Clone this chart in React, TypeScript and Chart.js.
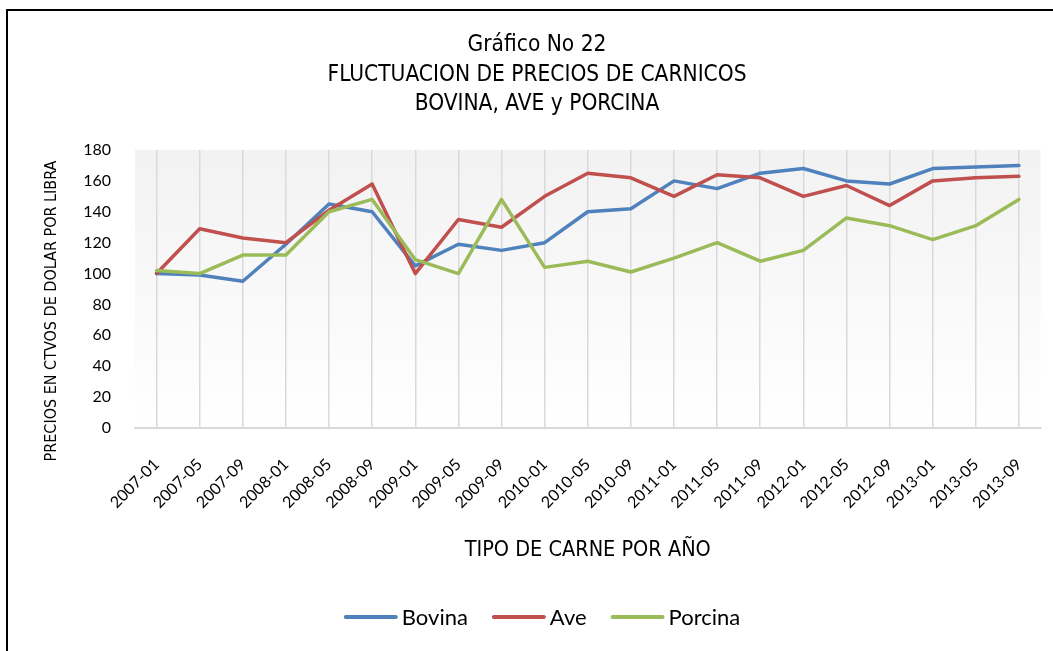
import React, { useEffect, useRef } from 'react';
import { Chart, registerables } from 'chart.js';

Chart.register(...registerables);

const categories = [
  '2007-01', '2007-05', '2007-09', '2008-01', '2008-05', '2008-09', '2009-01',
  '2009-05', '2009-09', '2010-01', '2010-05', '2010-09', '2011-01', '2011-05',
  '2011-09', '2012-01', '2012-05', '2012-09', '2013-01', '2013-05', '2013-09',
];
const bovina = [100, 99, 95, 119, 145, 140, 105, 119, 115, 120, 140, 142, 160, 155, 165, 168, 160, 158, 168, 169, 170];
const ave = [100, 129, 123, 120, 141, 158, 100, 135, 130, 150, 165, 162, 150, 164, 162, 150, 157, 144, 160, 162, 163];
const porcina = [102, 100, 112, 112, 140, 148, 109, 100, 148, 104, 108, 101, 110, 120, 108, 115, 136, 131, 122, 131, 148];

const seriesNames = ['Bovina', 'Ave', 'Porcina'];
const seriesColors = ['#4F81BD', '#C0504D', '#9BBB59'];
const yMin = 0;
const yMax = 180;
const yStep = 20;

const titleLines = ['Gráfico No 22', 'FLUCTUACION DE PRECIOS DE CARNICOS', 'BOVINA, AVE y PORCINA'];
const yAxisTitle = 'PRECIOS EN CTVOS DE DOLAR POR LIBRA';
const xAxisTitle = 'TIPO DE CARNE POR AÑO';

const NARROW = "'Liberation Sans Narrow', 'DejaVu Sans Condensed', Lato, sans-serif";
const BODY = "Lato, 'Noto Sans', sans-serif";

const decorPlugin = {
  id: 'decor',
  beforeDraw(chart: any) {
    const { ctx, chartArea } = chart;
    const g = ctx.createLinearGradient(0, chartArea.top, 0, chartArea.bottom);
    g.addColorStop(0, '#f2f2f2');
    g.addColorStop(1, '#ffffff');
    ctx.save();
    ctx.fillStyle = g;
    ctx.fillRect(chartArea.left, chartArea.top, chartArea.right - chartArea.left, chartArea.bottom - chartArea.top);
    ctx.restore();
  },
  afterDraw(chart: any) {
    const { ctx, chartArea } = chart;
    ctx.save();
    ctx.fillStyle = '#000';
    ctx.textBaseline = 'middle';
    ctx.textAlign = 'center';
    // Title
    ctx.font = `22.5px ${NARROW}`;
    const titleY = [45, 75, 104];
    titleLines.forEach((t, i) => ctx.fillText(t, 537, titleY[i]));
    // x axis title
    ctx.font = `21.5px ${NARROW}`;
    ctx.fillText(xAxisTitle, (chartArea.left + chartArea.right) / 2, 550);
    // y axis title
    ctx.save();
    ctx.translate(52, 311);
    ctx.rotate(-Math.PI / 2);
    ctx.font = `16px ${NARROW}`;
    ctx.fillText(yAxisTitle, 0, 0);
    ctx.restore();
    // Legend
    ctx.font = `22px ${BODY}`;
    const lineLen = 54;
    const gapText = 4;
    const gapItem = 24;
    const widths = seriesNames.map((n) => ctx.measureText(n).width);
    const total = widths.reduce((a, w) => a + lineLen + gapText + w, 0) + gapItem * (seriesNames.length - 1);
    let x = 542 - total / 2;
    const ly = 617;
    ctx.textAlign = 'left';
    seriesNames.forEach((n, i) => {
      ctx.strokeStyle = seriesColors[i];
      ctx.lineWidth = 4;
      ctx.lineCap = 'round';
      ctx.beginPath();
      ctx.moveTo(x + 2, ly);
      ctx.lineTo(x + lineLen - 2, ly);
      ctx.stroke();
      x += lineLen + gapText;
      ctx.fillText(n, x, ly + 1);
      x += widths[i] + gapItem;
    });
    ctx.restore();
  },
};

export default function App() {
  const ref = useRef<HTMLCanvasElement | null>(null);
  useEffect(() => {
    if (!ref.current) return;
    const data = [bovina, ave, porcina];
    const chart = new Chart(ref.current, {
      type: 'line',
      data: {
        labels: categories,
        datasets: data.map((d, i) => ({
          label: seriesNames[i],
          data: d,
          borderColor: seriesColors[i],
          backgroundColor: seriesColors[i],
          borderWidth: 3.5,
          pointRadius: 0,
          pointHoverRadius: 0,
          tension: 0,
          fill: false,
          borderJoinStyle: 'round' as const,
          borderCapStyle: 'round' as const,
          order: 3 - i,
        })),
      },
      options: {
        responsive: false,
        animation: false,
        layout: { padding: { top: 150, right: 12.5, left: 0, bottom: 0 } },
        plugins: {
          legend: { display: false },
          title: { display: false },
          tooltip: { enabled: false },
        },
        scales: {
          x: {
            offset: true,
            grid: { display: true, offset: false, color: '#d9d9d9', lineWidth: 1.5, drawTicks: false },
            border: { display: true, color: '#d9d9d9', width: 2 },
            ticks: {
              minRotation: 45,
              maxRotation: 45,
              autoSkip: false,
              padding: 27,
              color: '#000',
              font: { family: BODY, size: 16 },
            },
            afterFit: (s: any) => { s.height = 223; s.paddingLeft = 0; s.paddingRight = 0; },
          },
          y: {
            min: yMin,
            max: yMax,
            grid: { display: false, drawTicks: false },
            border: { display: false },
            ticks: {
              stepSize: yStep,
              padding: 24,
              color: '#000',
              font: { family: BODY, size: 16 },
            },
            afterFit: (s: any) => { s.width = 135; s.paddingTop = 0; s.paddingBottom = 0; },
          },
        },
      },
      plugins: [decorPlugin],
    });
    return () => chart.destroy();
  }, []);

  return (
    <div style={{ position: 'fixed', left: 0, top: 0, width: 1053, height: 651, overflow: 'hidden', background: '#fff' }}>
      <div style={{ position: 'absolute', left: 6, top: 9, width: 1100, height: 700, border: '2px solid #000', boxSizing: 'border-box' }} />
      <canvas ref={ref} width={1053} height={651} style={{ position: 'absolute', left: 0, top: 0, display: 'block' }} />
    </div>
  );
}
